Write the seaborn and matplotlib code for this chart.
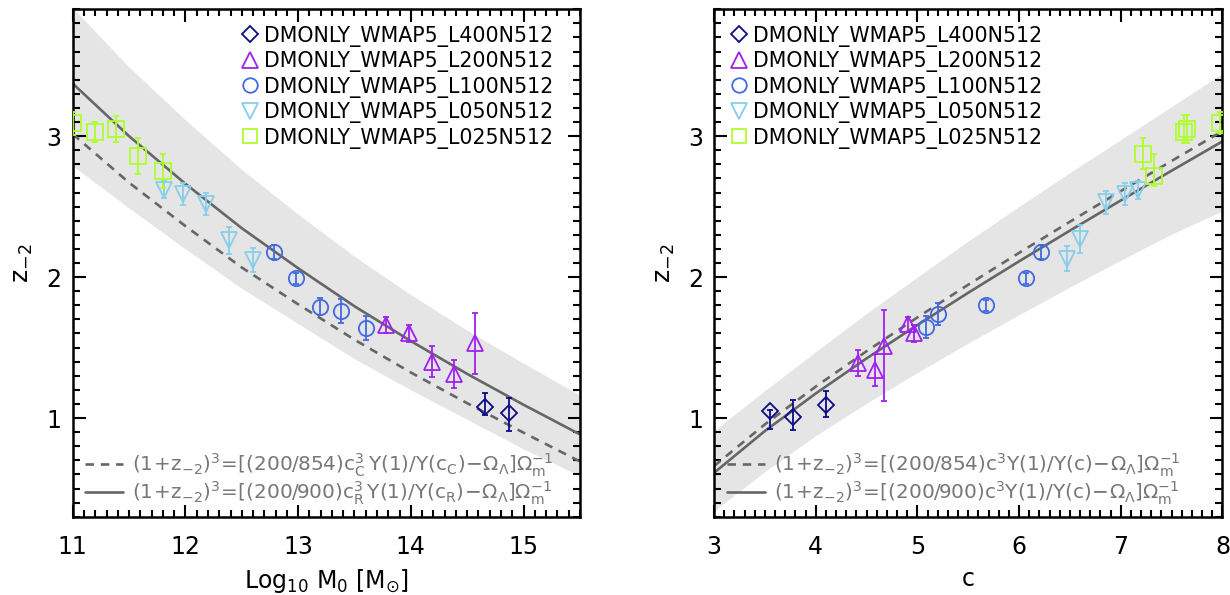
import matplotlib
matplotlib.use("Agg")
import matplotlib.pyplot as plt
from matplotlib.lines import Line2D
from matplotlib.ticker import MultipleLocator
import numpy as np
import seaborn as sns

sns.set_theme(style="ticks")
plt.rcParams['font.family'] = ['DejaVu Sans']
plt.rcParams['mathtext.fontset'] = 'dejavusans'
plt.rcParams['mathtext.default'] = 'regular'
plt.rcParams['text.color'] = 'black'
plt.rcParams['axes.labelcolor'] = 'black'

sims = ["DMONLY_WMAP5_L400N512", "DMONLY_WMAP5_L200N512", "DMONLY_WMAP5_L100N512",
        "DMONLY_WMAP5_L050N512", "DMONLY_WMAP5_L025N512"]
colours = ["#0c0c85", "#a020f0", "#4169e1", "#87ceeb", "#adff2f"]
markers = ["D", "^", "o", "v", "s"]
msizes = [8.5, 11.5, 11, 11.5, 11]

# left panel: z_-2 against log10 M0
mass = [
    [14.66, 14.87],
    [13.78, 13.98, 14.19, 14.38, 14.57],
    [12.79, 12.98, 13.19, 13.38, 13.60],
    [11.81, 11.98, 12.18, 12.39, 12.60],
    [11.00, 11.20, 11.38, 11.58, 11.80],
]
z_mass = [
    [1.08, 1.035],
    [1.66, 1.60, 1.40, 1.315, 1.53],
    [2.18, 1.99, 1.79, 1.76, 1.64],
    [2.62, 2.59, 2.52, 2.26, 2.12],
    [3.09, 3.03, 3.05, 2.86, 2.75],
]
err_mass_lo = [
    [0.055, 0.125],
    [0.055, 0.06, 0.11, 0.10, 0.215],
    [0.05, 0.04, 0.06, 0.085, 0.083],
    [0.06, 0.076, 0.08, 0.095, 0.085],
    [0.08, 0.07, 0.09, 0.13, 0.12],
]
err_mass_hi = [
    [0.10, 0.107],
    [0.055, 0.06, 0.11, 0.10, 0.215],
    [0.05, 0.04, 0.06, 0.085, 0.083],
    [0.06, 0.076, 0.08, 0.095, 0.085],
    [0.08, 0.07, 0.09, 0.13, 0.12],
]

# right panel: z_-2 against concentration
conc = [
    [3.55, 3.78, 4.10],
    [4.42, 4.58, 4.67, 4.91, 4.97],
    [5.08, 5.20, 5.67, 6.07, 6.22],
    [6.47, 6.60, 6.85, 7.04, 7.17],
    [7.215, 7.33, 7.62, 7.65, 7.975],
]
z_conc = [
    [1.047, 1.007, 1.094],
    [1.39, 1.34, 1.51, 1.665, 1.60],
    [1.645, 1.74, 1.80, 1.99, 2.18],
    [2.13, 2.27, 2.53, 2.586, 2.62],
    [2.875, 2.72, 3.03, 3.05, 3.09],
]
err_conc_lo = [
    [0.125, 0.095, 0.087],
    [0.09, 0.115, 0.39, 0.055, 0.06],
    [0.08, 0.077, 0.04, 0.04, 0.05],
    [0.09, 0.097, 0.083, 0.078, 0.063],
    [0.11, 0.075, 0.08, 0.10, 0.07],
]
err_conc_hi = [
    [0.01, 0.118, 0.10],
    [0.09, 0.115, 0.26, 0.055, 0.06],
    [0.08, 0.077, 0.04, 0.04, 0.05],
    [0.09, 0.097, 0.083, 0.078, 0.063],
    [0.11, 0.15, 0.12, 0.10, 0.08],
]

# model curves
m_grid = [11.0, 11.5, 12.0, 12.5, 13.0, 13.5, 14.0, 14.5, 15.0, 15.5]
m_solid = [3.373, 3.00, 2.662, 2.347, 2.063, 1.793, 1.546, 1.313, 1.094, 0.884]
m_dashed = [3.015, 2.670, 2.362, 2.068, 1.807, 1.556, 1.323, 1.105, 0.896, 0.692]
m_band_hi = [3.91, 3.49, 3.115, 2.763, 2.446, 2.147, 1.875, 1.622, 1.388, 1.163]
m_band_lo = [2.79, 2.49, 2.20, 1.92, 1.67, 1.42, 1.20, 0.99, 0.78, 0.59]

c_grid = [3.0, 3.5, 4.0, 4.5, 5.0, 5.5, 6.0, 6.5, 7.0, 7.5, 8.0]
c_solid = [0.611, 0.908, 1.174, 1.423, 1.660, 1.889, 2.112, 2.330, 2.544, 2.755, 2.963]
c_dashed = [0.659, 0.955, 1.223, 1.474, 1.714, 1.946, 2.172, 2.393, 2.610, 2.824, 3.036]
c_band_hi = [0.91, 1.195, 1.47, 1.742, 2.0, 2.256, 2.501, 2.742, 2.975, 3.21, 3.445]
c_band_lo = [0.34, 0.62, 0.875, 1.105, 1.323, 1.532, 1.733, 1.929, 2.12, 2.305, 2.47]

label_dash_m = r'$(1\!+\!z_{-2})^3\!=\![(200/854)c_C^3\,Y(1)/Y(c_C)\!-\!\Omega_\Lambda]\Omega_m^{-1}$'
label_solid_m = r'$(1\!+\!z_{-2})^3\!=\![(200/900)c_R^3\,Y(1)/Y(c_R)\!-\!\Omega_\Lambda]\Omega_m^{-1}$'
label_dash_c = r'$(1\!+\!z_{-2})^3\!=\![(200/854)c^3Y(1)/Y(c)\!-\!\Omega_\Lambda]\Omega_m^{-1}$'
label_solid_c = r'$(1\!+\!z_{-2})^3\!=\![(200/900)c^3Y(1)/Y(c)\!-\!\Omega_\Lambda]\Omega_m^{-1}$'

LINE_GREY = "#666666"
TEXT_GREY = "#777777"

fig = plt.figure(figsize=(12.3, 5.95), dpi=100)
ax1 = fig.add_axes([0.0591, 0.1316, 0.4124, 0.8528])
ax2 = fig.add_axes([0.5805, 0.1316, 0.4134, 0.8528])


def draw_panel(ax, grid, solid, dashed, band_lo, band_hi, xs, zs, elo, ehi):
    ax.fill_between(grid, band_lo, band_hi, color="#e5e5e5", lw=0, zorder=0)
    sns.lineplot(x=grid, y=dashed, ax=ax, color=LINE_GREY, lw=1.9,
                 linestyle=(0, (3.2, 2.6)), estimator=None, sort=False, zorder=2)
    sns.lineplot(x=grid, y=solid, ax=ax, color=LINE_GREY, lw=1.9,
                 estimator=None, sort=False, zorder=2)
    for i in range(len(sims)):
        ax.errorbar(xs[i], zs[i], yerr=[elo[i], ehi[i]], fmt=markers[i],
                    mfc="none", mec=colours[i], ms=msizes[i], mew=1.3,
                    ecolor=colours[i], elinewidth=1.3, capsize=2.2, capthick=1.6,
                    zorder=3)

    ax.set_ylim(0.3, 3.9)
    ax.yaxis.set_major_locator(MultipleLocator(1))
    ax.yaxis.set_minor_locator(MultipleLocator(0.1))
    ax.xaxis.set_major_locator(MultipleLocator(1))
    ax.xaxis.set_minor_locator(MultipleLocator(0.1))
    ax.tick_params(which="both", direction="in", top=True, right=True,
                   colors="black", width=1.5, labelsize=17)
    ax.tick_params(which="major", length=9)
    ax.tick_params(which="minor", length=5)
    ax.tick_params(axis="x", pad=13)
    ax.tick_params(axis="y", pad=8)
    for sp in ax.spines.values():
        sp.set_linewidth(1.8)
        sp.set_color("black")
    ax.set_ylabel(r'$z_{-2}$', fontsize=18, labelpad=8)


draw_panel(ax1, m_grid, m_solid, m_dashed, m_band_lo, m_band_hi,
           mass, z_mass, err_mass_lo, err_mass_hi)
draw_panel(ax2, c_grid, c_solid, c_dashed, c_band_lo, c_band_hi,
           conc, z_conc, err_conc_lo, err_conc_hi)

ax1.set_xlim(11, 15.5)
ax2.set_xlim(3, 8)
ax1.set_xlabel('Log$_{10}$ M$_0$ [M$_{\u2299}$]', fontsize=17, labelpad=6)
ax2.set_xlabel('c', fontsize=17, labelpad=6)

sim_handles = [Line2D([], [], ls="none", marker=markers[i], mfc="none",
                      mec=colours[i], ms=msizes[i] * 0.95, mew=1.3)
               for i in range(len(sims))]

for ax, anchor, dl, sl in [(ax1, (0.331, 0.968), label_dash_m, label_solid_m),
                           (ax2, (0.03, 0.968), label_dash_c, label_solid_c)]:
    leg = ax.legend(sim_handles, sims, loc="upper left", bbox_to_anchor=anchor,
                    frameon=False, fontsize=14.8, handlelength=0.9,
                    handletextpad=0.25, labelspacing=0.22, borderpad=0,
                    borderaxespad=0, labelcolor="black")
    ax.add_artist(leg)
    curve_handles = [Line2D([], [], color=LINE_GREY, lw=1.9, linestyle=(0, (3.2, 2.6))),
                     Line2D([], [], color=LINE_GREY, lw=1.9)]
    leg2 = ax.legend(curve_handles, [dl, sl], loc="lower left",
                     bbox_to_anchor=(0.025, 0.02), frameon=False, fontsize=14.4,
                     handlelength=1.9, handletextpad=0.45, labelspacing=0.0,
                     borderpad=0, borderaxespad=0, labelcolor=TEXT_GREY)

fig.savefig("out.png", dpi=100)
